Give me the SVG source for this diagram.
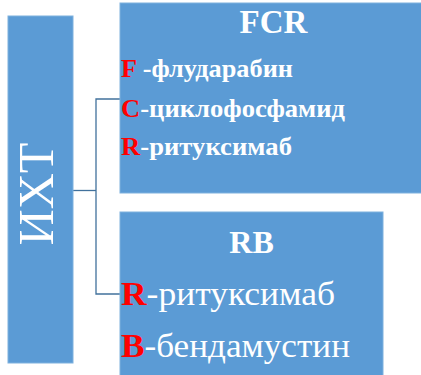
<svg xmlns="http://www.w3.org/2000/svg" width="421" height="375" viewBox="0 0 421 375">
<style>
.box{fill:#5B9BD5;stroke:#7EB1DE;stroke-width:1}
.con{fill:none;stroke:#41719C;stroke-width:1.3}
.t{font-family:"Liberation Serif","Times New Roman",serif;fill:#FFFFFF}
.b{font-weight:bold}
.r{fill:#FF0000;font-weight:bold}
</style>
<rect width="421" height="375" fill="#FFFFFF"/>
<g id="connectors">
<polyline class="con" points="73,190.5 96,190.5"/>
<polyline class="con" points="120,99 96,99 96,294 120,294"/>
</g>
<g id="node-iht">
<rect class="box" x="8" y="16" width="65" height="347"/>
<text class="t" transform="translate(53,194) rotate(-90)" text-anchor="middle" font-size="50">ИХТ</text>
</g>
<g id="node-fcr">
<rect class="box" x="120" y="3" width="302" height="190"/>
<text class="t b" x="273.5" y="33" text-anchor="middle" font-size="33">FCR</text>
<text class="t b" x="121" y="77" font-size="26" textLength="172" lengthAdjust="spacingAndGlyphs"><tspan class="r">F</tspan> -флударабин</text>
<text class="t b" x="121" y="117" font-size="26" textLength="224" lengthAdjust="spacingAndGlyphs"><tspan class="r">C</tspan>-циклофосфамид</text>
<text class="t b" x="121" y="155" font-size="26" textLength="171" lengthAdjust="spacingAndGlyphs"><tspan class="r">R</tspan>-ритуксимаб</text>
</g>
<g id="node-rb">
<rect class="box" x="120" y="212" width="263" height="170"/>
<text class="t b" x="251.5" y="253" text-anchor="middle" font-size="32">RB</text>
<text class="t" x="121" y="305" font-size="33" textLength="214" lengthAdjust="spacingAndGlyphs"><tspan class="r">R</tspan>-ритуксимаб</text>
<text class="t" x="121" y="357" font-size="33" textLength="229" lengthAdjust="spacingAndGlyphs"><tspan class="r">B</tspan>-бендамустин</text>
</g>
</svg>
